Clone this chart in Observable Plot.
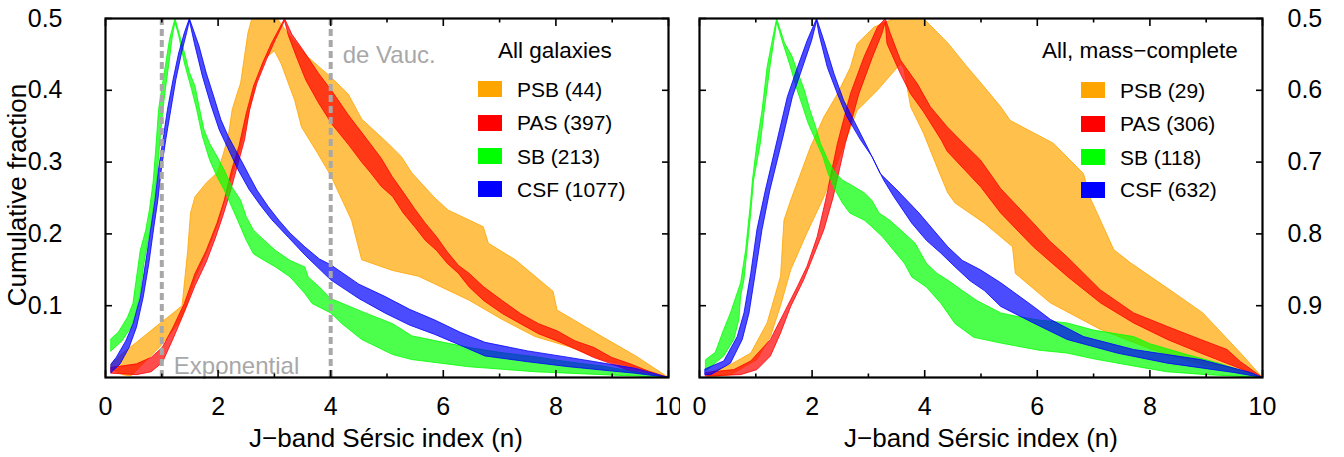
<!DOCTYPE html>
<html><head><meta charset="utf-8">
<script src="https://cdn.jsdelivr.net/npm/d3@7"></script>
<script src="https://cdn.jsdelivr.net/npm/@observablehq/plot@0.6"></script>
<style>
body{margin:0;background:#fff;font-family:"Liberation Sans",Arial,sans-serif;}
#wrap{position:relative;width:1344px;height:457px;overflow:hidden;background:#fff;}
.panel{position:absolute;top:0;}
.txt{position:absolute;white-space:nowrap;line-height:1;color:#000;}
.sw{position:absolute;width:24px;height:16px;}
</style></head><body><div id="wrap"></div>
<script>
// ---------- categories / labels ----------
const seriesNames = ["PSB", "PAS", "SB", "CSF"];
const countsAll = [44, 397, 213, 1077];
const countsMass = [29, 306, 118, 632];
const panelTitles = ["All galaxies", "All, mass\u2212complete"];
const xTicks = [0, 2, 4, 6, 8, 10];
const xMinorTicks = [1, 3, 5, 7, 9];
const xTickLabels = ["0", "2", "4", "6", "8", "10"];
const yTicks = [0.1, 0.2, 0.3, 0.4, 0.5];
const yTickLabelsLeft = ["0.1", "0.2", "0.3", "0.4", "0.5"];
const yTickLabelsRight = ["0.9", "0.8", "0.7", "0.6", "0.5"];
const refLines = [1, 4];
const refLabels = ["Exponential", "de Vauc."];
const xTitle = "J\u2212band S\u00e9rsic index (n)";
const yTitle = "Cumulative fraction";

// ---------- band edges: [Sersic n, folded cumulative fraction] ----------
// Left panel: all galaxies
const psbAllUpper = [[0.10,0.019],[0.29,0.033],[0.55,0.049],[0.88,0.070],[1.14,0.086],[1.36,0.100],[1.46,0.177],[1.51,0.229],[1.59,0.252],[1.79,0.271],[1.98,0.285],[2.08,0.308],[2.18,0.336],[2.25,0.373],[2.34,0.396],[2.40,0.410],[2.47,0.448],[2.53,0.480],[2.60,0.500],[3.05,0.500],[3.24,0.479],[3.60,0.446],[4.01,0.418],[4.31,0.395],[4.55,0.360],[5.02,0.326],[5.26,0.307],[5.44,0.285],[5.85,0.250],[6.09,0.233],[6.71,0.210],[6.80,0.187],[7.28,0.164],[7.95,0.120],[8.02,0.094],[8.82,0.057],[9.42,0.030],[10,0]];
const psbAllLower = [[0.10,0.012],[0.30,0.004],[0.45,0.002],[0.98,0.044],[1.30,0.076],[1.43,0.099],[1.60,0.140],[1.80,0.175],[2.00,0.215],[2.20,0.270],[2.40,0.320],[2.55,0.370],[2.67,0.410],[2.84,0.445],[3.00,0.455],[3.12,0.437],[3.36,0.386],[3.48,0.349],[3.77,0.312],[4.01,0.280],[4.12,0.261],[4.37,0.219],[4.55,0.164],[5.10,0.149],[5.56,0.141],[6.45,0.108],[7.04,0.081],[7.63,0.057],[8.23,0.043],[8.82,0.025],[9.71,0.007],[10,0]];
const pasAllUpper = [[0.10,0.014],[0.55,0.019],[0.81,0.028],[1.01,0.042],[1.20,0.070],[1.40,0.103],[1.59,0.145],[1.79,0.177],[1.98,0.215],[2.11,0.247],[2.24,0.289],[2.37,0.322],[2.50,0.368],[2.63,0.406],[2.79,0.438],[2.95,0.466],[3.08,0.485],[3.18,0.500],[3.31,0.478],[3.50,0.457],[3.78,0.424],[4.03,0.398],[4.31,0.366],[4.66,0.330],[4.90,0.305],[5.09,0.280],[5.29,0.258],[5.49,0.235],[5.68,0.215],[5.88,0.196],[6.07,0.175],[6.27,0.156],[6.46,0.145],[6.72,0.126],[7.05,0.107],[7.37,0.089],[7.69,0.075],[8.02,0.065],[8.34,0.051],[8.67,0.042],[8.99,0.028],[9.32,0.019],[9.64,0.009],[10,0]];
const pasAllLower = [[0.10,0.006],[0.55,0.004],[0.81,0.008],[1.01,0.021],[1.20,0.054],[1.40,0.091],[1.59,0.128],[1.79,0.161],[1.95,0.194],[2.08,0.224],[2.21,0.257],[2.34,0.294],[2.47,0.331],[2.56,0.373],[2.69,0.410],[2.86,0.443],[3.02,0.471],[3.15,0.492],[3.18,0.497],[3.25,0.476],[3.41,0.443],[3.56,0.414],[3.78,0.383],[4.03,0.352],[4.32,0.324],[4.55,0.300],[4.71,0.285],[4.90,0.266],[5.10,0.252],[5.29,0.229],[5.49,0.210],[5.68,0.191],[5.88,0.177],[6.07,0.159],[6.27,0.145],[6.46,0.126],[6.72,0.107],[7.05,0.089],[7.37,0.075],[7.69,0.061],[8.02,0.051],[8.34,0.040],[8.67,0.028],[8.99,0.019],[9.32,0.009],[10,0]];
const sbAllUpper = [[0.097,0.054],[0.227,0.063],[0.39,0.084],[0.487,0.103],[0.552,0.140],[0.617,0.177],[0.714,0.205],[0.779,0.233],[0.844,0.271],[0.877,0.303],[0.909,0.336],[0.942,0.373],[1.006,0.406],[1.071,0.438],[1.136,0.471],[1.234,0.500],[1.40,0.453],[1.49,0.425],[1.59,0.406],[1.66,0.378],[1.75,0.345],[1.85,0.326],[1.98,0.308],[2.11,0.289],[2.24,0.266],[2.40,0.247],[2.50,0.224],[2.63,0.205],[2.82,0.191],[3.02,0.177],[3.28,0.163],[3.54,0.154],[3.60,0.140],[3.80,0.126],[4.00,0.110],[4.55,0.092],[5.10,0.075],[5.44,0.058],[6.00,0.049],[6.45,0.042],[7.00,0.035],[7.63,0.029],[8.20,0.022],[8.82,0.016],[9.40,0.008],[10,0]];
const sbAllLower = [[0.097,0.037],[0.292,0.051],[0.455,0.070],[0.519,0.084],[0.617,0.117],[0.682,0.159],[0.747,0.187],[0.812,0.215],[0.877,0.252],[0.929,0.294],[0.974,0.336],[1.019,0.373],[1.071,0.406],[1.136,0.443],[1.188,0.476],[1.234,0.495],[1.30,0.476],[1.40,0.438],[1.53,0.401],[1.62,0.373],[1.72,0.336],[1.85,0.303],[1.98,0.280],[2.11,0.261],[2.24,0.238],[2.37,0.215],[2.50,0.191],[2.63,0.172],[2.82,0.163],[3.02,0.154],[3.28,0.140],[3.54,0.117],[3.67,0.103],[4.00,0.090],[4.20,0.075],[4.55,0.053],[5.10,0.032],[5.44,0.025],[6.45,0.015],[7.63,0.008],[8.82,0.004],[10,0]];
const csfAllUpper = [[0.10,0.019],[0.19,0.028],[0.36,0.051],[0.49,0.075],[0.62,0.112],[0.71,0.159],[0.81,0.210],[0.88,0.247],[0.94,0.289],[1.02,0.331],[1.10,0.373],[1.20,0.415],[1.30,0.452],[1.40,0.480],[1.49,0.500],[1.66,0.462],[1.79,0.424],[1.92,0.392],[2.05,0.359],[2.18,0.336],[2.31,0.317],[2.44,0.298],[2.56,0.280],[2.69,0.261],[2.89,0.238],[3.08,0.219],[3.28,0.201],[3.54,0.182],[3.80,0.165],[4.00,0.157],[4.50,0.130],[4.96,0.113],[5.40,0.095],[5.85,0.080],[6.30,0.063],[6.74,0.049],[7.50,0.037],[8.23,0.028],[9.00,0.018],[9.40,0.013],[10,0]];
const csfAllLower = [[0.10,0.007],[0.26,0.019],[0.42,0.042],[0.55,0.070],[0.67,0.112],[0.77,0.159],[0.86,0.210],[0.93,0.247],[0.99,0.289],[1.07,0.331],[1.16,0.373],[1.25,0.415],[1.35,0.452],[1.44,0.480],[1.49,0.497],[1.58,0.465],[1.72,0.420],[1.87,0.380],[2.02,0.345],[2.17,0.320],[2.35,0.290],[2.55,0.262],[2.75,0.240],[2.95,0.220],[3.25,0.195],[3.55,0.170],[4.00,0.136],[4.50,0.110],[4.96,0.090],[5.40,0.073],[5.85,0.060],[6.30,0.045],[6.74,0.030],[7.50,0.022],[8.23,0.015],[9.00,0.009],[9.40,0.006],[10,0]];

// Right panel: mass-complete sample
const psbMassUpper = [[0.15,0.006],[0.55,0.018],[0.91,0.034],[1.20,0.076],[1.44,0.141],[1.50,0.219],[1.62,0.247],[1.97,0.321],[2.21,0.363],[2.45,0.395],[2.68,0.432],[2.80,0.465],[3.10,0.488],[3.45,0.500],[3.98,0.500],[4.41,0.466],[4.74,0.434],[5.00,0.410],[5.35,0.377],[5.52,0.358],[6.29,0.326],[6.82,0.284],[6.94,0.250],[7.36,0.178],[7.65,0.160],[8.43,0.118],[8.94,0.090],[9.61,0.034],[10,0]];
const psbMassLower = [[0.15,0.000],[0.55,0.004],[1.02,0.025],[1.26,0.057],[1.44,0.100],[1.62,0.150],[1.90,0.200],[2.20,0.250],[2.50,0.310],[2.80,0.372],[3.16,0.400],[3.57,0.437],[3.63,0.430],[3.75,0.377],[3.98,0.340],[4.22,0.293],[4.41,0.257],[4.54,0.243],[5.06,0.215],[5.56,0.182],[5.61,0.145],[6.23,0.104],[7.12,0.067],[8.00,0.040],[8.90,0.018],[10,0]];
const pasMassUpper = [[0.11,0.007],[0.61,0.011],[0.91,0.023],[1.26,0.053],[1.50,0.090],[1.74,0.127],[1.91,0.155],[2.09,0.196],[2.24,0.247],[2.45,0.326],[2.68,0.395],[2.92,0.446],[3.16,0.488],[3.30,0.500],[3.39,0.479],[3.57,0.442],[3.87,0.409],[4.10,0.377],[4.40,0.349],[4.69,0.326],[4.99,0.303],[5.35,0.263],[5.93,0.215],[6.22,0.190],[6.53,0.168],[7.12,0.122],[7.71,0.090],[8.31,0.071],[8.90,0.053],[9.37,0.039],[9.61,0.022],[10,0]];
const pasMassLower = [[0.11,0.002],[0.73,0.004],[1.02,0.011],[1.26,0.030],[1.44,0.062],[1.62,0.099],[1.85,0.136],[1.97,0.159],[2.21,0.206],[2.37,0.250],[2.59,0.326],[2.83,0.395],[3.07,0.446],[3.24,0.479],[3.30,0.495],[3.33,0.465],[3.57,0.423],[3.75,0.395],[3.98,0.370],[4.30,0.330],[4.40,0.315],[4.70,0.290],[5.00,0.265],[5.35,0.229],[5.93,0.182],[6.53,0.141],[7.12,0.104],[7.71,0.076],[8.31,0.053],[8.90,0.034],[9.49,0.016],[10,0]];
const sbMassUpper = [[0.11,0.025],[0.28,0.035],[0.43,0.067],[0.55,0.090],[0.73,0.132],[0.82,0.178],[0.91,0.247],[0.94,0.275],[1.02,0.326],[1.11,0.372],[1.20,0.432],[1.29,0.469],[1.37,0.500],[1.51,0.466],[1.64,0.448],[1.77,0.420],[1.86,0.401],[1.96,0.373],[2.06,0.350],[2.15,0.326],[2.28,0.303],[2.41,0.285],[2.54,0.275],[2.74,0.266],[2.93,0.257],[3.06,0.247],[3.19,0.229],[3.38,0.219],[3.58,0.205],[3.83,0.187],[4.03,0.159],[4.22,0.145],[4.42,0.135],[4.67,0.121],[4.93,0.107],[5.35,0.090],[5.58,0.086],[6.03,0.080],[6.53,0.076],[7.00,0.066],[7.71,0.057],[8.00,0.047],[8.61,0.033],[9.26,0.019],[10,0]];
const sbMassLower = [[0.11,0.009],[0.43,0.030],[0.61,0.053],[0.70,0.081],[0.73,0.113],[0.79,0.136],[0.85,0.182],[0.91,0.229],[0.96,0.275],[1.08,0.326],[1.15,0.372],[1.25,0.432],[1.32,0.469],[1.37,0.495],[1.48,0.466],[1.61,0.434],[1.73,0.401],[1.83,0.378],[1.93,0.354],[2.06,0.331],[2.19,0.308],[2.28,0.285],[2.41,0.261],[2.54,0.243],[2.67,0.229],[2.93,0.219],[3.06,0.210],[3.25,0.196],[3.45,0.177],[3.64,0.159],[3.77,0.140],[4.03,0.126],[4.29,0.103],[4.54,0.075],[4.87,0.056],[5.35,0.048],[6.03,0.038],[6.53,0.034],[7.00,0.026],[7.71,0.016],[8.30,0.008],[9.00,0.004],[10,0]];
const csfMassUpper = [[0.10,0.012],[0.43,0.023],[0.67,0.057],[0.79,0.090],[0.91,0.145],[1.02,0.206],[1.17,0.261],[1.38,0.331],[1.56,0.391],[1.74,0.432],[1.91,0.469],[2.08,0.500],[2.21,0.469],[2.39,0.423],[2.56,0.386],[2.80,0.349],[2.98,0.321],[3.21,0.284],[3.51,0.261],[3.90,0.229],[4.16,0.205],[4.41,0.182],[4.67,0.163],[4.99,0.150],[5.35,0.132],[5.93,0.099],[6.23,0.081],[6.82,0.057],[7.71,0.039],[8.90,0.025],[9.79,0.007],[10,0]];
const csfMassLower = [[0.10,0.004],[0.20,0.004],[0.55,0.020],[0.76,0.053],[0.88,0.090],[0.99,0.145],[1.11,0.206],[1.25,0.261],[1.47,0.331],[1.65,0.391],[1.83,0.432],[1.99,0.469],[2.08,0.497],[2.12,0.479],[2.27,0.432],[2.45,0.395],[2.62,0.363],[2.86,0.331],[3.07,0.307],[3.27,0.275],[3.45,0.252],[3.77,0.215],[4.03,0.191],[4.29,0.173],[4.54,0.154],[4.80,0.135],[5.06,0.121],[5.35,0.099],[5.93,0.076],[6.53,0.053],[7.42,0.034],[8.31,0.020],[9.49,0.007],[10,0]];

// ---------- styling ----------
const colors = ["#ffa500", "#ff0000", "#00ff00", "#0000ff"];
const FONT = "Liberation Sans, Arial, Helvetica, sans-serif";

function polygon(upper, lower) {
  return upper.concat(lower.slice().reverse()).map(([n, f]) => ({n, f}));
}

function makePanel({width, marginLeft, marginRight, bands, leftLabels, rightLabels, refs}) {
  const marks = [];
  bands.forEach((b, i) => {
    marks.push(Plot.line(polygon(b[0], b[1]), {
      x: "n", y: "f", curve: "linear-closed",
      fill: colors[i], fillOpacity: 0.7, stroke: colors[i], strokeWidth: 0.8
    }));
  });
  if (refs) {
    marks.push(Plot.ruleX(refLines, {stroke: "#a8a8a8", strokeWidth: 4, strokeDasharray: "7,4"}));
    marks.push(Plot.text([refLabels[0]], {x: refLines[0], frameAnchor: "bottom", text: d => d, textAnchor: "start", lineAnchor: "bottom", dx: 12, dy: -4, fill: "#a8a8a8", fontSize: 24}));
    marks.push(Plot.text([refLabels[1]], {x: refLines[1], frameAnchor: "top", text: d => d, textAnchor: "start", lineAnchor: "bottom", dx: 12, dy: 44, fill: "#a8a8a8", fontSize: 24}));
  }
  marks.push(Plot.frame({stroke: "black", strokeWidth: 2.2}));
  // inward ticks on all four sides
  for (const anchor of ["bottom", "top"]) {
    marks.push(Plot.axisX(xTicks, {anchor, tickSize: -7, fill: "none", strokeWidth: 1.6, label: null}));
    marks.push(Plot.axisX(xMinorTicks, {anchor, tickSize: -3.5, fill: "none", strokeWidth: 1.6, label: null}));
  }
  for (const anchor of ["left", "right"]) {
    marks.push(Plot.axisY(yTicks, {anchor, tickSize: -7, fill: "none", strokeWidth: 1.6, label: null}));
  }
  marks.push(Plot.axisX(xTicks, {anchor: "bottom", tickSize: 0, tickPadding: 20, fontSize: 25, label: null,
    tickFormat: d => xTickLabels[xTicks.indexOf(d)]}));
  if (leftLabels) marks.push(Plot.axisY(yTicks, {anchor: "left", tickSize: 0, tickPadding: 43, fontSize: 25, label: null,
    tickFormat: d => leftLabels[yTicks.indexOf(d)]}));
  if (rightLabels) marks.push(Plot.axisY(yTicks, {anchor: "right", tickSize: 0, tickPadding: 25, fontSize: 25, label: null,
    tickFormat: d => rightLabels[yTicks.indexOf(d)]}));
  return Plot.plot({
    width, height: 457, marginLeft, marginRight, marginTop: 18, marginBottom: 80,
    x: {domain: [0, 10], label: null},
    y: {domain: [0, 0.5], label: null},
    style: {fontFamily: FONT, background: "white", color: "black", overflow: "visible"},
    marks
  });
}

const wrap = document.getElementById("wrap");

const left = makePanel({
  width: 680, marginLeft: 105, marginRight: 12,
  bands: [[psbAllUpper, psbAllLower], [pasAllUpper, pasAllLower], [sbAllUpper, sbAllLower], [csfAllUpper, csfAllLower]],
  leftLabels: yTickLabelsLeft, rightLabels: null, refs: true
});
const right = makePanel({
  width: 664, marginLeft: 19, marginRight: 82,
  bands: [[psbMassUpper, psbMassLower], [pasMassUpper, pasMassLower], [sbMassUpper, sbMassLower], [csfMassUpper, csfMassLower]],
  leftLabels: null, rightLabels: yTickLabelsRight, refs: false
});
const dl = document.createElement("div"); dl.className = "panel"; dl.style.left = "0px"; dl.appendChild(left); wrap.appendChild(dl);
const dr = document.createElement("div"); dr.className = "panel"; dr.style.left = "680px"; dr.appendChild(right); wrap.appendChild(dr);

function addText(str, x, y, size, extra) {
  const d = document.createElement("div");
  d.className = "txt";
  d.textContent = str;
  d.style.left = x + "px"; d.style.top = y + "px"; d.style.fontSize = size + "px";
  if (extra) Object.assign(d.style, extra);
  wrap.appendChild(d);
  return d;
}

// axis titles
addText(yTitle, 17, 195, 26, {transform: "translate(-50%,-50%) rotate(-90deg)"});
addText(xTitle, 386, 438, 26, {transform: "translate(-50%,-50%)"});
addText(xTitle, 981, 438, 26, {transform: "translate(-50%,-50%)"});

// legends
function legend(title, counts, titleX, swX, txtX, rows) {
  addText(title, titleX, 40, 22.5);
  seriesNames.forEach((s, i) => {
    const sw = document.createElement("div");
    sw.className = "sw";
    sw.style.left = swX + "px"; sw.style.top = (rows[i] - 8) + "px"; sw.style.background = colors[i];
    wrap.appendChild(sw);
    addText(`${s} (${counts[i]})`, txtX, rows[i] - 10.5, 21);
  });
}
legend(panelTitles[0], countsAll, 498, 478, 517, [89, 122.5, 156, 189]);
legend(panelTitles[1], countsMass, 1042, 1081, 1120, [90, 123.5, 157, 189.5]);
</script></body></html>
